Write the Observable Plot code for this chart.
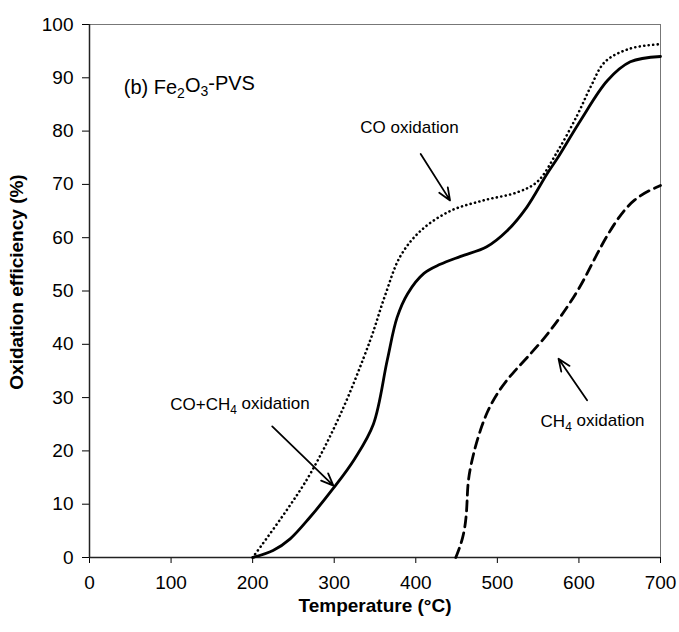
<!DOCTYPE html>
<html><head><meta charset="utf-8">
<script src="https://cdn.jsdelivr.net/npm/d3@7"></script>
<script src="https://cdn.jsdelivr.net/npm/@observablehq/plot@0.6"></script>
<style>body{margin:0;background:#fff;}</style>
</head><body><div id="chart"></div>
<script>
// CO+CH4 oxidation (solid)
const mixT = [200, 225, 246, 270, 299, 325, 348, 365, 377, 390, 410, 430, 455, 487, 512, 536, 561, 574, 602, 635, 663, 700];
const mixV = [0, 1.3, 3.5, 7.5, 13, 18.5, 25, 37, 45, 49.5, 53.3, 55, 56.5, 58.3, 61.3, 65.7, 72, 75, 82, 89.5, 93, 94];
// CO oxidation (dotted)
const coT = [200, 240, 271, 308, 344, 362, 381, 406, 442, 483, 524, 549, 573, 598, 615, 632, 663, 700];
const coV = [0, 8.5, 15.8, 27, 40.7, 49, 56.5, 61.3, 65, 67, 68.5, 70.5, 76, 83, 88.5, 93, 95.5, 96.3];
// CH4 oxidation (dashed)
const ch4T = [449, 458, 462, 463, 464, 469, 477, 487.5, 501.5, 518, 536.5, 557, 577, 602, 622, 643, 667, 700];
const ch4V = [0, 3.5, 7.5, 11, 14.5, 18.5, 23, 27.5, 31.3, 34.5, 37.5, 41, 45, 50.7, 57, 62.7, 67.5, 69.8];

const xTicks = [0, 100, 200, 300, 400, 500, 600, 700];
const yTicks = [0, 10, 20, 30, 40, 50, 60, 70, 80, 90, 100];
const xTitle = "Temperature (°C)";
const yTitle = "Oxidation efficiency (%)";

const panelText = ["(b) Fe₂O₃-PVS"];
const panelT = [42];
const panelV = [87];

const labelText = ["CO oxidation", "CO+CH₄ oxidation", "CH₄ oxidation"];
const labelT = [332, 99, 553];
const labelV = [79.7, 27.6, 24.4];

const arrowT1 = [406, 224, 610];
const arrowV1 = [75.7, 24.6, 29.5];
const arrowT2 = [442, 299, 575];
const arrowV2 = [67, 13.5, 37.3];

const toPts = (T, V) => T.map((t, i) => ({t, v: V[i]}));
const panel = panelText.map((s, i) => ({s, t: panelT[i], v: panelV[i]}));
const labels = labelText.map((s, i) => ({s, t: labelT[i], v: labelV[i]}));
const arrows = arrowT1.map((t, i) => ({t1: t, v1: arrowV1[i], t2: arrowT2[i], v2: arrowV2[i]}));

const chart = Plot.plot({
  width: 679,
  height: 632,
  marginLeft: 89,
  marginRight: 19,
  marginTop: 24,
  marginBottom: 75,
  style: {fontFamily: "'Liberation Sans', Arial, sans-serif", fontSize: "18px", background: "#fff", color: "#000"},
  x: {domain: [0, 700]},
  y: {domain: [0, 100]},
  marks: [
    Plot.frame({stroke: "#777", strokeWidth: 1}),
    Plot.axisX({ticks: xTicks, tickSize: 6, tickPadding: 12, label: xTitle, labelAnchor: "center", labelOffset: 54, fontSize: 19}),
    Plot.axisY({ticks: yTicks, tickSize: 7, tickPadding: 9, label: yTitle, labelAnchor: "center", labelOffset: 80, fontSize: 19}),
    Plot.ruleX([0], {stroke: "#222", strokeWidth: 1.5}),
    Plot.ruleY([0], {stroke: "#222", strokeWidth: 1.5}),
    Plot.line(toPts(coT, coV), {x: "t", y: "v", curve: "catmull-rom", stroke: "#000", strokeWidth: 2.6, strokeDasharray: "0.1,4.4", strokeLinecap: "round"}),
    Plot.line(toPts(mixT, mixV), {x: "t", y: "v", curve: "catmull-rom", stroke: "#000", strokeWidth: 2.8}),
    Plot.line(toPts(ch4T, ch4V), {x: "t", y: "v", curve: "basis", stroke: "#000", strokeWidth: 2.8, strokeDasharray: "10,6"}),
    Plot.arrow(arrows, {x1: "t1", y1: "v1", x2: "t2", y2: "v2", stroke: "#000", strokeWidth: 1.8, headLength: 11, headAngle: 45}),
    Plot.text(panel, {x: "t", y: "v", text: "s", textAnchor: "start", lineAnchor: "bottom", fontSize: 20, fill: "#000"}),
    Plot.text(labels, {x: "t", y: "v", text: "s", textAnchor: "start", lineAnchor: "bottom", fontSize: 17, fill: "#000"})
  ]
});
document.getElementById("chart").appendChild(chart);

const svg = d3.select(chart);
svg.selectAll('[aria-label="x-axis label"] text').text(xTitle);
svg.selectAll('[aria-label="y-axis label"] text').text(yTitle).attr("dx", 9);
svg.selectAll('[aria-label="x-axis label"], [aria-label="y-axis label"]').attr("font-weight", "bold").attr("font-size", 19);

// convert unicode subscript digits into tspans
const subMap = {"₀":"0","₁":"1","₂":"2","₃":"3","₄":"4","₅":"5","₆":"6","₇":"7","₈":"8","₉":"9"};
svg.selectAll("text").each(function() {
  const el = this;
  const s = el.textContent;
  if (!/[₀-₉]/.test(s)) return;
  el.textContent = "";
  let inSub = false;
  let buf = "";
  const flush = () => {
    if (!buf) return;
    const ts = document.createElementNS("http://www.w3.org/2000/svg", "tspan");
    ts.textContent = buf;
    if (inSub) { ts.setAttribute("font-size", "0.7em"); ts.setAttribute("dy", "0.3em"); }
    else if (el.childNodes.length) { ts.setAttribute("dy", "-0.3em"); }
    el.appendChild(ts);
    buf = "";
  };
  for (const ch of s) {
    const sub = ch in subMap;
    if (sub !== inSub) { flush(); inSub = sub; }
    buf += sub ? subMap[ch] : ch;
  }
  flush();
});
</script>
</body></html>
